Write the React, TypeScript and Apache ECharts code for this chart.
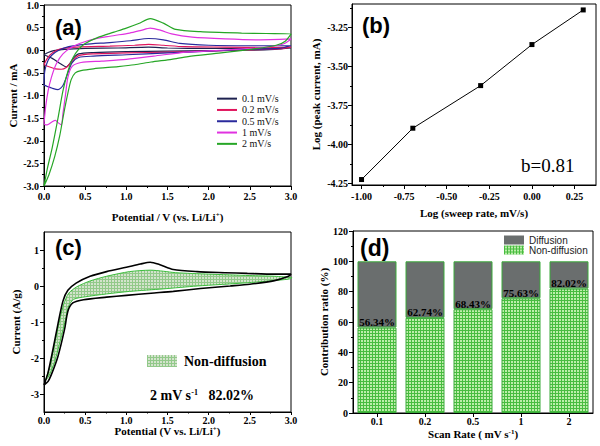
import React, { useEffect, useRef } from 'react';
import * as echarts from 'echarts';

const SERIF = '"Times New Roman", "Liberation Serif", serif';
const SANS = 'Arial, "Liberation Sans", sans-serif';

// ---------- Panel (a): CV curves at different sweep rates (V, mA) ----------
const cvRates = ['0.1 mV/s', '0.2 mV/s', '0.5 mV/s', '1 mV/s', '2 mV/s'];
const cvColors = ['#1e2250', '#e0145c', '#2a2a9c', '#e032e0', '#26a626'];
const cv01 = [[0, -0.1], [0.05, -0.05], [0.12, -0.01], [0.25, 0.02], [0.5, 0.04], [0.9, 0.05], [1.27, 0.07], [1.5, 0.05], [2.0, 0.04], [2.5, 0.04], [3.0, 0.05], [2.8, 0.02], [2.5, 0.0], [2.0, -0.01], [1.5, -0.02], [1.0, -0.03], [0.6, -0.05], [0.42, -0.08], [0.36, -0.17], [0.31, -0.3], [0.27, -0.37], [0.2, -0.3], [0.1, -0.18], [0.0, -0.1]];
const cv02 = [[0, -0.32], [0.04, -0.18], [0.1, -0.06], [0.2, 0.03], [0.4, 0.07], [0.8, 0.09], [1.1, 0.11], [1.27, 0.13], [1.45, 0.11], [1.7, 0.08], [2.2, 0.07], [2.7, 0.06], [3.0, 0.07], [2.85, 0.03], [2.5, 0.01], [2.0, -0.02], [1.5, -0.04], [1.0, -0.06], [0.6, -0.08], [0.42, -0.12], [0.34, -0.25], [0.27, -0.38], [0.21, -0.42], [0.14, -0.41], [0.07, -0.37], [0, -0.32]];
const cv05 = [[0, -0.77], [0.01, -0.45], [0.05, -0.22], [0.1, -0.1], [0.18, 0.0], [0.3, 0.08], [0.5, 0.13], [0.8, 0.17], [1.05, 0.21], [1.27, 0.26], [1.45, 0.23], [1.65, 0.15], [2.0, 0.11], [2.5, 0.1], [3.0, 0.1], [2.85, 0.04], [2.5, 0.02], [2.0, -0.02], [1.5, -0.06], [1.0, -0.1], [0.6, -0.13], [0.42, -0.16], [0.34, -0.28], [0.29, -0.5], [0.23, -0.78], [0.17, -0.87], [0.1, -0.84], [0.04, -0.8], [0, -0.77]];
const cv1 = [[0, -1.62], [0.02, -1.25], [0.05, -0.9], [0.09, -0.6], [0.15, -0.3], [0.23, -0.08], [0.35, 0.08], [0.55, 0.22], [0.8, 0.31], [1.04, 0.38], [1.18, 0.44], [1.29, 0.49], [1.42, 0.44], [1.55, 0.36], [1.8, 0.29], [2.2, 0.25], [2.6, 0.23], [3.0, 0.25], [2.92, 0.15], [2.75, 0.08], [2.5, 0.04], [2.14, 0.0], [1.73, -0.04], [1.33, -0.13], [1.0, -0.2], [0.7, -0.24], [0.45, -0.27], [0.34, -0.36], [0.29, -0.6], [0.26, -1.0], [0.23, -1.4], [0.21, -1.65], [0.17, -1.6], [0.14, -1.55], [0.1, -1.58], [0.05, -1.64], [0.02, -1.65], [0, -1.62]];
const cv2 = [[0, -3.0], [0.04, -2.62], [0.1, -2.15], [0.17, -1.5], [0.23, -0.9], [0.29, -0.47], [0.35, -0.17], [0.42, 0.02], [0.5, 0.15], [0.65, 0.28], [0.85, 0.4], [1.0, 0.49], [1.15, 0.59], [1.29, 0.7], [1.45, 0.6], [1.6, 0.46], [1.9, 0.41], [2.4, 0.38], [2.7, 0.37], [3.0, 0.36], [2.93, 0.2], [2.82, 0.11], [2.55, 0.03], [2.15, -0.06], [1.75, -0.14], [1.55, -0.2], [1.3, -0.26], [1.1, -0.32], [0.9, -0.36], [0.6, -0.41], [0.45, -0.45], [0.38, -0.5], [0.33, -0.65], [0.29, -0.95], [0.24, -1.4], [0.19, -1.9], [0.13, -2.35], [0.06, -2.75], [0, -3.0]];
const cvLoops = [cv01, cv02, cv05, cv1, cv2];

// ---------- Panel (b): log(peak current) vs log(sweep rate) ----------
const logSweep = [-1.0, -0.699, -0.301, 0.0, 0.301];
const logPeak = [-4.225, -3.896, -3.623, -3.36, -3.138];
const bXTicks = [-1.0, -0.75, -0.5, -0.25, 0.0, 0.25];
const bXMinor = [-0.875, -0.625, -0.375, -0.125, 0.125];
const bYTicks = [-4.25, -4.0, -3.75, -3.5, -3.25];
const bYMinor = [-4.125, -3.875, -3.625, -3.375, -3.125];

// ---------- Panel (c): total CV at 2 mV/s and non-diffusion part (V, A/g) ----------
const cTotal = [[0.0, -2.75], [0.05, -2.4], [0.11, -1.75], [0.17, -1.05], [0.23, -0.42], [0.29, -0.12], [0.39, 0.08], [0.56, 0.27], [0.76, 0.4], [1.0, 0.52], [1.17, 0.61], [1.29, 0.66], [1.4, 0.6], [1.57, 0.46], [1.86, 0.4], [2.2, 0.37], [2.47, 0.35], [2.8, 0.33], [3.0, 0.33], [2.97, 0.27], [2.8, 0.15], [2.5, 0.05], [2.26, 0.0], [1.9, -0.07], [1.57, -0.15], [1.3, -0.2], [1.0, -0.26], [0.76, -0.31], [0.48, -0.38], [0.35, -0.47], [0.29, -0.7], [0.25, -1.2], [0.17, -1.95], [0.1, -2.4], [0.05, -2.65], [0.0, -2.75]];
const cNonDiff = [[0.02, -2.62], [0.08, -2.15], [0.13, -1.6], [0.19, -0.95], [0.24, -0.5], [0.3, -0.2], [0.4, -0.02], [0.56, 0.14], [0.76, 0.27], [1.04, 0.4], [1.29, 0.44], [1.45, 0.41], [1.6, 0.37], [2.0, 0.33], [2.5, 0.29], [2.8, 0.27], [3.01, 0.23], [2.97, 0.19], [2.47, 0.09], [1.86, 0.0], [1.45, -0.08], [1.04, -0.15], [0.76, -0.22], [0.5, -0.3], [0.36, -0.37], [0.3, -0.55], [0.26, -0.95], [0.2, -1.5], [0.13, -2.1], [0.06, -2.5], [0.02, -2.62]];
const cYTicks = [-3, -2, -1, 0, 1];
const cYMinor = [-2.5, -1.5, -0.5, 0.5];

// ---------- Panel (d): contribution ratio ----------
const scanRates = ['0.1', '0.2', '0.5', '1', '2'];
const nonDiffusion = [56.34, 62.74, 68.43, 75.63, 82.02];
const diffusion = [43.66, 37.26, 31.57, 24.37, 17.98];

function makePattern(base: string, line: string, size: number) {
  const c = document.createElement('canvas');
  c.width = size;
  c.height = size;
  const ctx = c.getContext('2d')!;
  ctx.fillStyle = base;
  ctx.fillRect(0, 0, size, size);
  ctx.fillStyle = line;
  ctx.fillRect(0, 0, size, 1);
  ctx.fillRect(0, 0, 1, size);
  return { image: c.toDataURL(), repeat: 'repeat', imageWidth: size, imageHeight: size };
}

export default function App() {
  const ref = useRef<HTMLDivElement>(null);
  useEffect(() => {
    document.body.style.margin = '0';
    if (!ref.current) return;
    const chart = echarts.init(ref.current, null, { renderer: 'svg' });
    const barPattern = makePattern('#bdeeaa', '#48bc40', 3);
    const cPattern = makePattern('#d3e3cc', '#92c98a', 3);

    const labelBase = { color: '#000', fontFamily: SERIF, fontWeight: 'bold', fontSize: 10 };
    const nameStyle = (size: number) => ({
      color: '#000', fontFamily: SERIF, fontWeight: 'bold', fontSize: size,
      rich: { sup: { fontSize: 7, fontFamily: SERIF, fontWeight: 'bold', color: '#000', verticalAlign: 'top' } },
    });
    const axisLine = { show: true, onZero: false, lineStyle: { color: '#000', width: 1 } };
    const hiddenLine = { show: false, onZero: false };
    const tick = { show: true, inside: false, length: 4, lineStyle: { color: '#000', width: 1 } };
    const minor = { show: true, splitNumber: 2, length: 2, lineStyle: { color: '#000', width: 1 } };
    const noSplit = { show: false };
    const gridBase = { show: true, borderColor: '#000', borderWidth: 1, backgroundColor: 'transparent', containLabel: false, outerBoundsMode: 'none' };

    const option: any = {
      animation: false,
      backgroundColor: '#fff',
      textStyle: { fontFamily: SERIF },
      grid: [
        { ...gridBase, left: 44, top: 5, width: 247, height: 181 },
        { ...gridBase, left: 352, top: 4, width: 244, height: 181 },
        { ...gridBase, left: 44, top: 232, width: 247, height: 180 },
        { ...gridBase, left: 353, top: 231, width: 240, height: 182 },
      ],
      xAxis: [
        {
          gridIndex: 0, type: 'value', min: 0, max: 3, interval: 0.5, position: 'bottom',
          axisLine, axisTick: tick, minorTick: minor, splitLine: noSplit, minorSplitLine: noSplit,
          axisLabel: { ...labelBase, margin: 5, formatter: (v: number) => v.toFixed(1) },
          name: 'Potential / V (vs. Li/Li{sup|+})', nameLocation: 'middle', nameGap: 25, nameTextStyle: nameStyle(11),
        },
        {
          gridIndex: 1, type: 'value', min: -1.056, max: 0.376, position: 'bottom',
          axisLine, axisTick: { ...tick, customValues: bXTicks }, splitLine: noSplit,
          axisLabel: { ...labelBase, margin: 6, customValues: bXTicks, formatter: (v: number) => v.toFixed(2) },
          name: 'Log (sweep rate, mV/s)', nameLocation: 'middle', nameGap: 22, nameTextStyle: nameStyle(11),
        },
        {
          gridIndex: 1, type: 'value', min: -1.056, max: 0.376, position: 'bottom',
          axisLine: hiddenLine, axisTick: { show: true, length: 2, customValues: bXMinor, lineStyle: { color: '#000' } },
          axisLabel: { show: false }, splitLine: noSplit,
        },
        {
          gridIndex: 2, type: 'value', min: 0, max: 3, interval: 0.5, position: 'bottom',
          axisLine, axisTick: { ...tick, length: 3 }, minorTick: { ...minor, length: 1.5 }, splitLine: noSplit, minorSplitLine: noSplit,
          axisLabel: { ...labelBase, margin: 3, formatter: (v: number) => v.toFixed(1) },
          name: 'Potential (V vs. Li/Li{sup|+})', nameLocation: 'middle', nameGap: 13, nameTextStyle: nameStyle(11),
        },
        {
          gridIndex: 3, type: 'category', data: scanRates, position: 'bottom',
          axisLine, axisTick: { ...tick, alignWithLabel: true }, splitLine: noSplit,
          axisLabel: { ...labelBase, margin: 3 },
          name: 'Scan Rate ( mV s{sup|-1})', nameLocation: 'middle', nameGap: 15, nameTextStyle: nameStyle(11),
        },
      ],
      yAxis: [
        {
          gridIndex: 0, type: 'value', min: -3, max: 1, interval: 0.5, position: 'left',
          axisLine, axisTick: tick, minorTick: minor, splitLine: noSplit, minorSplitLine: noSplit,
          axisLabel: { ...labelBase, margin: 5, formatter: (v: number) => v.toFixed(1) },
          name: 'Current / mA', nameLocation: 'middle', nameGap: 26, nameTextStyle: nameStyle(11),
        },
        {
          gridIndex: 1, type: 'value', min: -4.26, max: -3.1, position: 'left',
          axisLine, axisTick: { ...tick, customValues: bYTicks }, splitLine: noSplit,
          axisLabel: { ...labelBase, margin: 4, customValues: bYTicks, formatter: (v: number) => v.toFixed(2) },
          name: 'Log (peak current, mA)', nameLocation: 'middle', nameGap: 31, nameTextStyle: nameStyle(11),
        },
        {
          gridIndex: 1, type: 'value', min: -4.26, max: -3.1, position: 'left',
          axisLine: hiddenLine, axisTick: { show: true, length: 2, customValues: bYMinor, lineStyle: { color: '#000' } },
          axisLabel: { show: false }, splitLine: noSplit,
        },
        {
          gridIndex: 2, type: 'value', min: -3.5, max: 1.5, position: 'left',
          axisLine, axisTick: { ...tick, customValues: cYTicks }, splitLine: noSplit,
          axisLabel: { ...labelBase, margin: 5, customValues: cYTicks, formatter: (v: number) => String(v) },
          name: 'Current (A/g)', nameLocation: 'middle', nameGap: 23, nameTextStyle: nameStyle(11),
        },
        {
          gridIndex: 2, type: 'value', min: -3.5, max: 1.5, position: 'left',
          axisLine: hiddenLine, axisTick: { show: true, length: 2, customValues: cYMinor, lineStyle: { color: '#000' } },
          axisLabel: { show: false }, splitLine: noSplit,
        },
        {
          gridIndex: 3, type: 'value', min: 0, max: 120, interval: 20, position: 'left',
          axisLine, axisTick: tick, minorTick: minor, splitLine: noSplit, minorSplitLine: noSplit,
          axisLabel: { ...labelBase, margin: 5 },
          name: 'Contribution ratio (%)', nameLocation: 'middle', nameGap: 22, nameTextStyle: nameStyle(11),
        },
      ],
      legend: [
        {
          data: cvRates, orient: 'vertical', left: 217, top: 93, padding: 0, itemGap: 0,
          itemWidth: 20, itemHeight: 2, icon: 'rect',
          textStyle: { fontFamily: SERIF, fontSize: 10, color: '#111', lineHeight: 11.3 },
        },
        {
          data: ['Diffusion', 'Non-diffusion'], orient: 'vertical', left: 504, top: 235, padding: 0, itemGap: 0,
          itemWidth: 20, itemHeight: 9, icon: 'rect', itemStyle: { borderWidth: 0 },
          textStyle: { fontFamily: SANS, fontSize: 10, color: '#222', lineHeight: 10 },
        },
      ],
      series: [
        ...cvLoops.map((loop, i) => ({
          name: cvRates[i], type: 'line', xAxisIndex: 0, yAxisIndex: 0, data: loop,
          showSymbol: false, smooth: 0.25, color: cvColors[i],
          lineStyle: { color: cvColors[i], width: 1.2 },
        })),
        {
          name: 'log', type: 'line', xAxisIndex: 1, yAxisIndex: 1,
          data: logSweep.map((x, i) => [x, logPeak[i]]),
          symbol: 'rect', symbolSize: 5, showSymbol: true,
          itemStyle: { color: '#000' }, lineStyle: { color: '#000', width: 1 },
        },
        {
          name: 'Non-diffusion (c)', type: 'custom', xAxisIndex: 3, yAxisIndex: 3, data: cNonDiff,
          encode: { x: 0, y: 1 },
          renderItem: (params: any, api: any) => {
            if (params.dataIndex !== 0) return null;
            const pts = cNonDiff.map((p) => api.coord(p));
            return {
              type: 'polygon',
              shape: { points: pts, smooth: 0.25 },
              style: { fill: cPattern, stroke: '#3dbd3d', lineWidth: 1 },
            };
          },
        },
        {
          name: 'total (c)', type: 'line', xAxisIndex: 3, yAxisIndex: 3, data: cTotal,
          showSymbol: false, smooth: 0.25, lineStyle: { color: '#000', width: 1.6 }, itemStyle: { color: '#000' },
        },
        {
          name: 'Non-diffusion', type: 'bar', stack: 'd', xAxisIndex: 4, yAxisIndex: 5, data: nonDiffusion,
          barWidth: 39, z: 3,
          itemStyle: { color: barPattern, borderColor: '#3aaa3a', borderWidth: 1 },
          label: {
            show: true, position: 'top', distance: 0,
            formatter: (p: any) => p.value.toFixed(2) + '%',
            fontFamily: SERIF, fontWeight: 'bold', fontSize: 11, color: '#000',
          },
        },
        {
          name: 'Diffusion', type: 'bar', stack: 'd', xAxisIndex: 4, yAxisIndex: 5, data: diffusion,
          barWidth: 39, z: 2,
          itemStyle: { color: '#6a6e6e', borderColor: '#3aaa3a', borderWidth: 1 },
        },
      ],
      graphic: [
        { type: 'text', x: 55, y: 27, style: { text: '(a)', fontFamily: SANS, fontWeight: 'bold', fontSize: 22, fill: '#000', align: 'left', verticalAlign: 'middle', textAlign: 'left', textVerticalAlign: 'middle' } },
        { type: 'text', x: 362, y: 25, style: { text: '(b)', fontFamily: SANS, fontWeight: 'bold', fontSize: 22, fill: '#000', align: 'left', verticalAlign: 'middle', textAlign: 'left', textVerticalAlign: 'middle' } },
        { type: 'text', x: 55, y: 247, style: { text: '(c)', fontFamily: SANS, fontWeight: 'bold', fontSize: 22, fill: '#000', align: 'left', verticalAlign: 'middle', textAlign: 'left', textVerticalAlign: 'middle' } },
        { type: 'text', x: 360, y: 248, style: { text: '(d)', fontFamily: SANS, fontWeight: 'bold', fontSize: 23, fill: '#000', align: 'left', verticalAlign: 'middle', textAlign: 'left', textVerticalAlign: 'middle' } },
        { type: 'text', x: 521, y: 165, style: { text: 'b=0.81', fontFamily: SERIF, fontSize: 19, fill: '#000', align: 'left', verticalAlign: 'middle', textAlign: 'left', textVerticalAlign: 'middle' } },
        { type: 'rect', shape: { x: 147, y: 355, width: 30, height: 12 }, style: { fill: cPattern } },
        { type: 'text', x: 184, y: 361, style: { text: 'Non-diffusion', fontFamily: SERIF, fontWeight: 'bold', fontSize: 14, fill: '#000', align: 'left', verticalAlign: 'middle', textAlign: 'left', textVerticalAlign: 'middle' } },
        {
          type: 'text', x: 150, y: 395,
          style: {
            text: '2 mV s{sup|-1}   82.02%', fontFamily: SERIF, fontWeight: 'bold', fontSize: 14, fill: '#000',
            align: 'left', verticalAlign: 'middle', textAlign: 'left', textVerticalAlign: 'middle',
            rich: { sup: { fontSize: 8, fontFamily: SERIF, fontWeight: 'bold', fill: '#000', verticalAlign: 'top' } },
          },
        },
      ],
    };
    chart.setOption(option);
    return () => chart.dispose();
  }, []);
  return <div ref={ref} style={{ width: 600, height: 446 }} />;
}
